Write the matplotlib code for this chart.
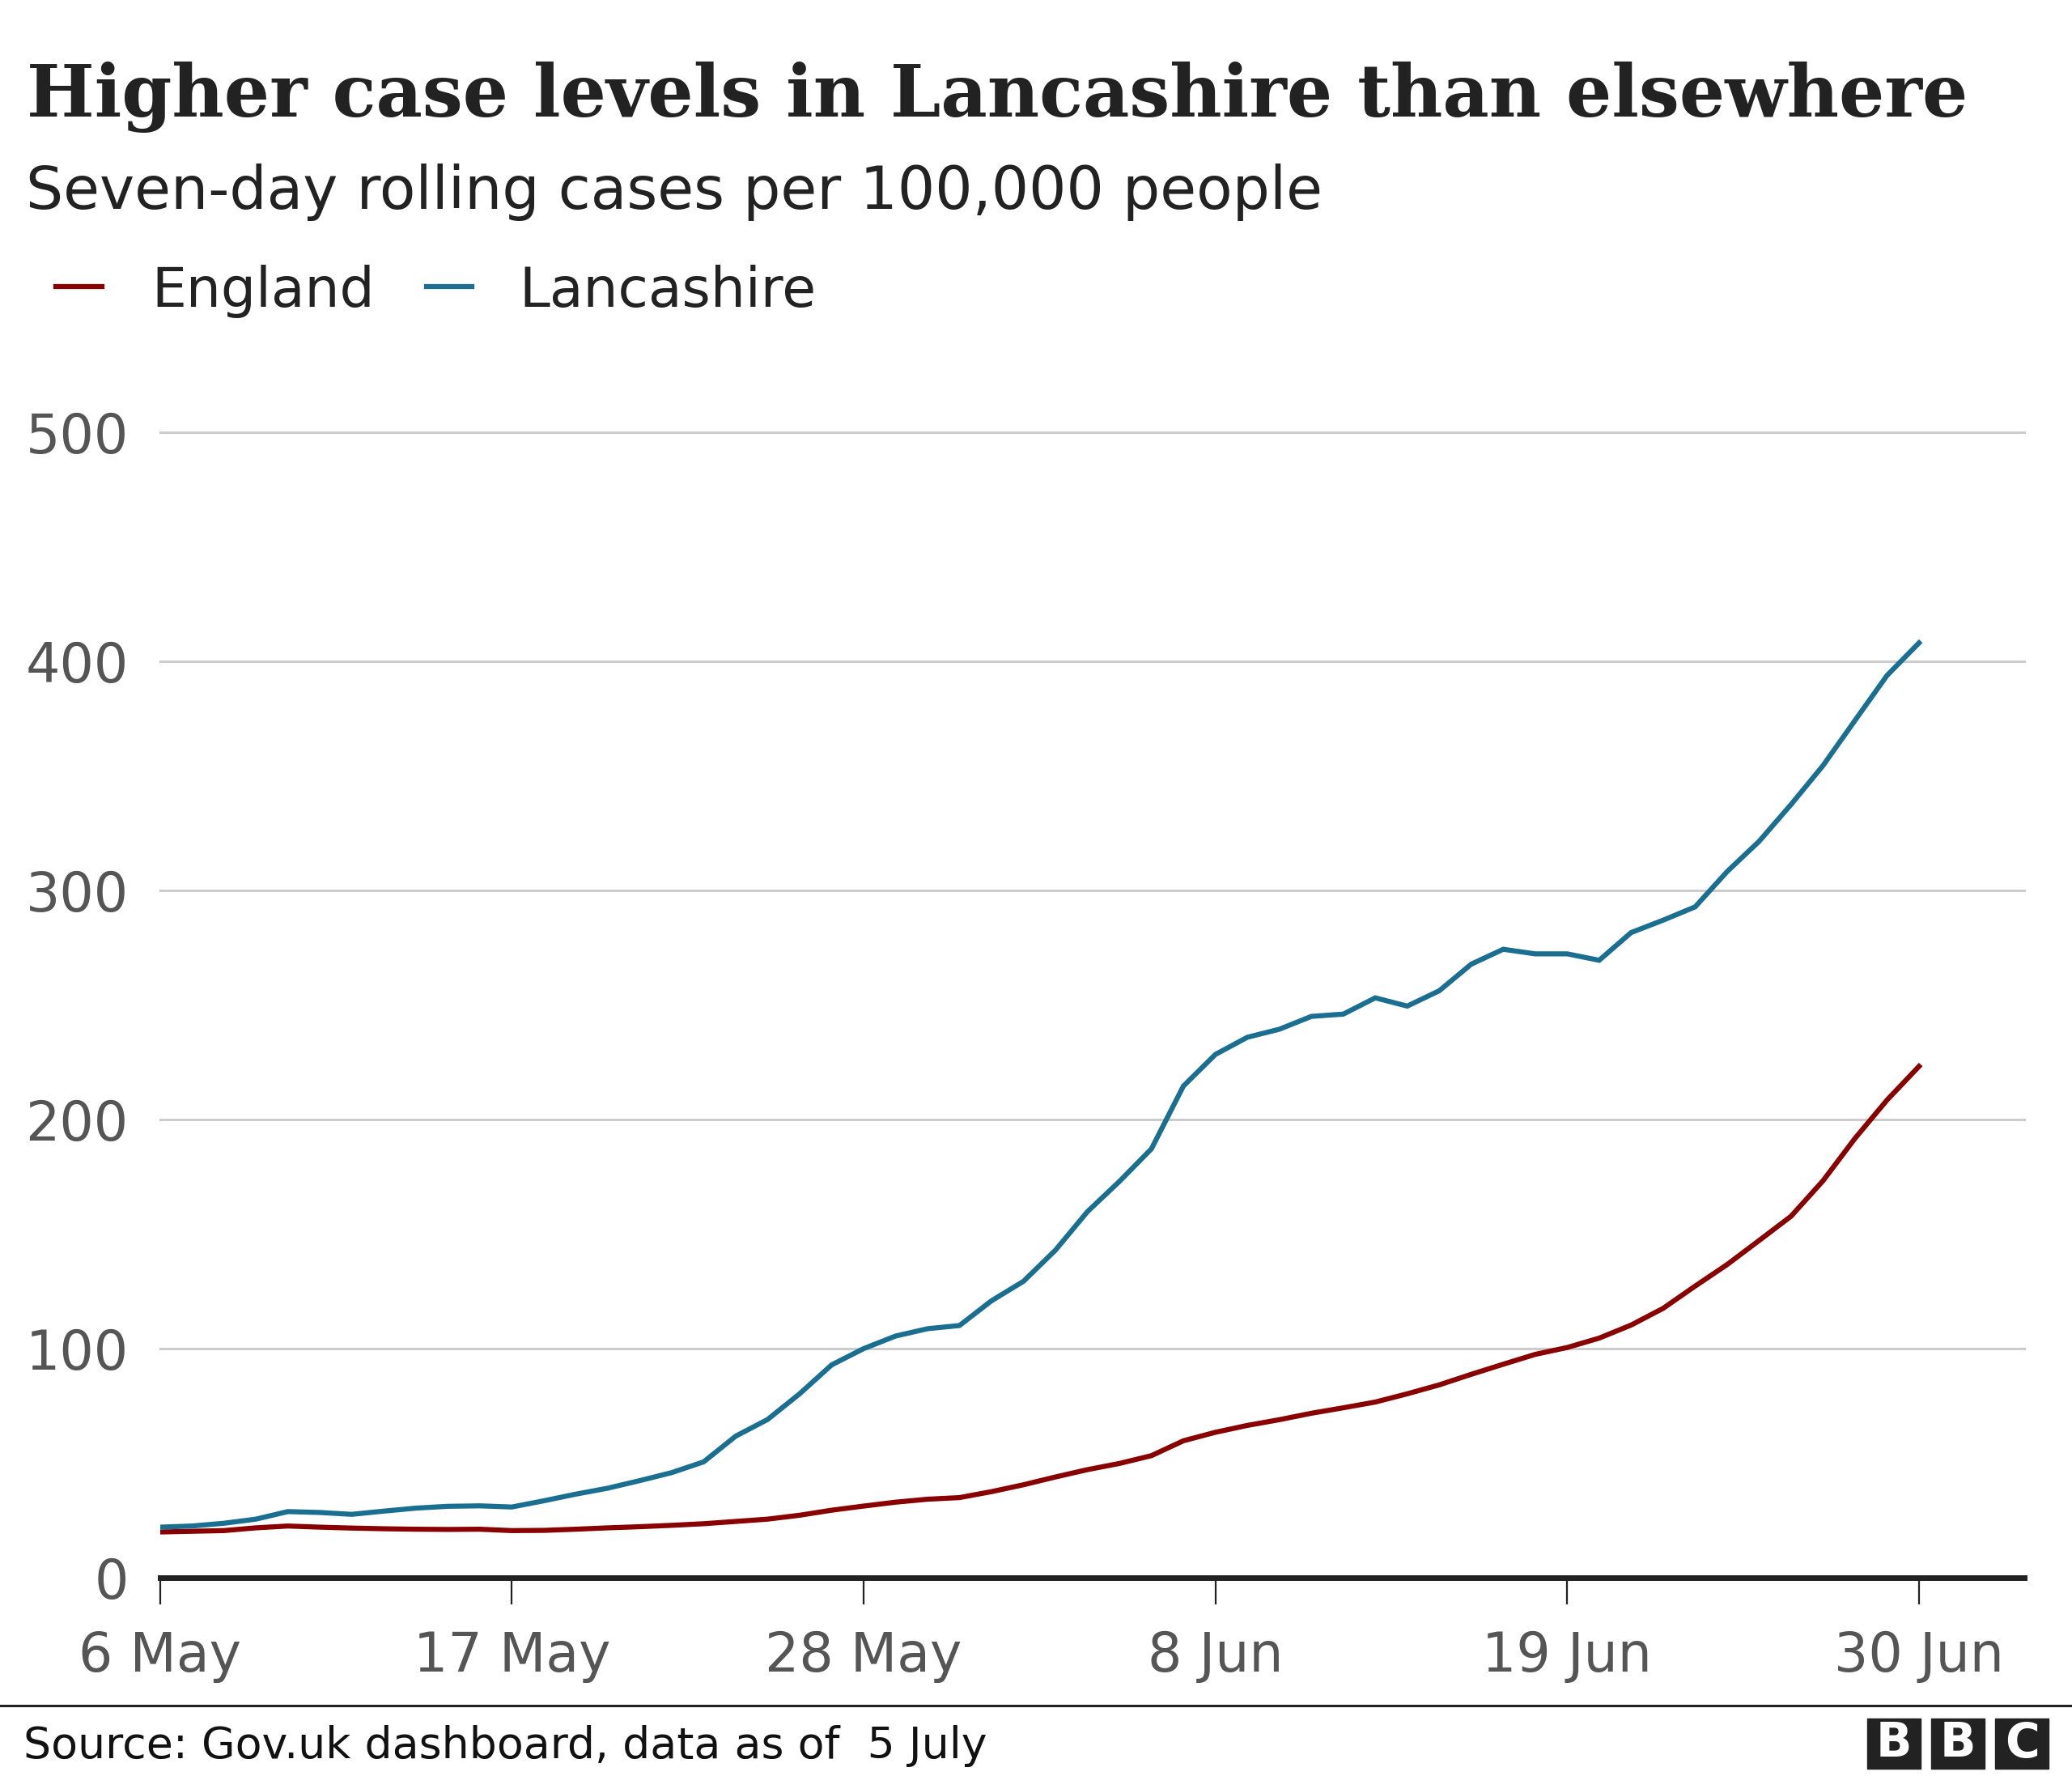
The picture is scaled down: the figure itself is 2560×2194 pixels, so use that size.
import pandas as pd
import matplotlib
matplotlib.use('Agg')
import matplotlib.pyplot as plt
from matplotlib.patches import Rectangle
from matplotlib.lines import Line2D

# daily values, 6 May - 30 Jun
dates = pd.date_range('2021-05-06', periods=56, freq='D')

england = [20.0, 20.3, 20.6, 21.8, 22.6, 22.1, 21.7, 21.4, 21.2, 21.1,
           21.2, 20.6, 20.7, 21.2, 21.8, 22.3, 22.9, 23.6, 24.6, 25.6,
           27.3, 29.5, 31.3, 33.0, 34.3, 35.0, 37.6, 40.6, 44.0, 47.2,
           49.9, 53.3, 59.8, 63.5, 66.5, 69.0, 71.8, 74.2, 76.7, 80.3,
           84.2, 88.8, 93.2, 97.5, 100.5, 104.6, 110.3, 117.6, 127.3, 136.7,
           147.2, 157.8, 173.3, 191.8, 208.5, 223.2]

lancashire = [22.1, 22.6, 23.8, 25.6, 28.9, 28.5, 27.7, 29.1, 30.4, 31.2,
              31.4, 30.9, 33.6, 36.5, 39.1, 42.4, 45.9, 50.6, 61.8, 69.1,
              80.3, 92.9, 100.0, 105.5, 108.7, 110.1, 120.9, 129.4, 143.0, 159.8,
              173.0, 187.2, 214.6, 228.4, 235.9, 239.4, 245.0, 246.0, 253.1, 249.5,
              256.2, 267.8, 274.3, 272.3, 272.3, 269.5, 281.6, 287.0, 292.8, 308.2,
              321.4, 337.5, 354.5, 374.2, 393.8, 408.0]

tick_dates = ['2021-05-06', '2021-05-17', '2021-05-28', '2021-06-08', '2021-06-19', '2021-06-30']
tick_labels = ['6 May', '17 May', '28 May', '8 Jun', '19 Jun', '30 Jun']
y_ticks = [0, 100, 200, 300, 400, 500]

red = '#880000'
blue = '#1a6f91'
grey_txt = '#555555'

plt.rcParams['font.family'] = ['DejaVu Sans']

fig = plt.figure(figsize=(25.6, 21.94), dpi=100)
ax = fig.add_axes([0.0772, 0.1116, 0.9771 - 0.0772, 0.7567 - 0.1116])

ax.plot(dates, england, color=red, lw=4.5, solid_joinstyle='miter', zorder=3)
ax.plot(dates, lancashire, color=blue, lw=4.5, solid_joinstyle='miter', zorder=3)

ax.set_ylim(0, 500)
ax.set_xlim(dates[0], dates[0] + pd.Timedelta(days=58.3))

ax.set_yticks(y_ticks)
ax.set_yticklabels([str(v) for v in y_ticks])
ax.yaxis.grid(True, color='#cccccc', lw=2.2)
ax.set_axisbelow(True)
for g in ax.get_ygridlines():
    g.set_clip_on(False)
ax.tick_params(axis='y', length=0, pad=28, labelsize=48, labelcolor=grey_txt)

ax.set_xticks(pd.to_datetime(tick_dates))
ax.set_xticklabels(tick_labels)
ax.tick_params(axis='x', length=24, width=1.6, color='#222222', pad=22,
               labelsize=48, labelcolor=grey_txt)

for s in ['top', 'right', 'left']:
    ax.spines[s].set_visible(False)
ax.spines['bottom'].set_linewidth(5)
ax.spines['bottom'].set_color('#222222')
ax.spines['bottom'].set_zorder(4)

# titles
fig.text(0.013, 0.9344, 'Higher case levels in Lancashire than elsewhere',
         family='DejaVu Serif', weight='bold', fontsize=63.8, color='#222222', va='baseline')
fig.text(0.0125, 0.8824, 'Seven-day rolling cases per 100,000 people',
         fontsize=52.5, color='#222222', va='baseline')

# legend
fig.add_artist(Line2D([0.0268, 0.0491], [0.8386, 0.8386], color=red, lw=4.5,
                      transform=fig.transFigure))
fig.text(0.0733, 0.8273, 'England', fontsize=49, color='#222222', va='baseline')
fig.add_artist(Line2D([0.2059, 0.2277], [0.8386, 0.8386], color=blue, lw=4.5,
                      transform=fig.transFigure))
fig.text(0.2507, 0.8273, 'Lancashire', fontsize=49, color='#222222', va='baseline')

# footer
fig.add_artist(Line2D([0, 1], [1 - 2107 / 2194] * 2, color='#222222', lw=2.2,
                      transform=fig.transFigure))
fig.text(0.0113, 1 - 2172 / 2194, 'Source: Gov.uk dashboard, data as of  5 July',
         fontsize=38.7, color='#111111', va='baseline')

for i, letter in enumerate('BBC'):
    x0 = (2307 + i * 79) / 2560
    fig.add_artist(Rectangle((x0, 1 - 2185 / 2194), 66 / 2560, 62 / 2194,
                             color='#222222', transform=fig.transFigure))
    fig.text(x0 + 33 / 2560, 1 - 2154 / 2194, letter, color='white', fontsize=42,
             weight='bold', ha='center', va='center')

fig.savefig('out.png', dpi=100)
